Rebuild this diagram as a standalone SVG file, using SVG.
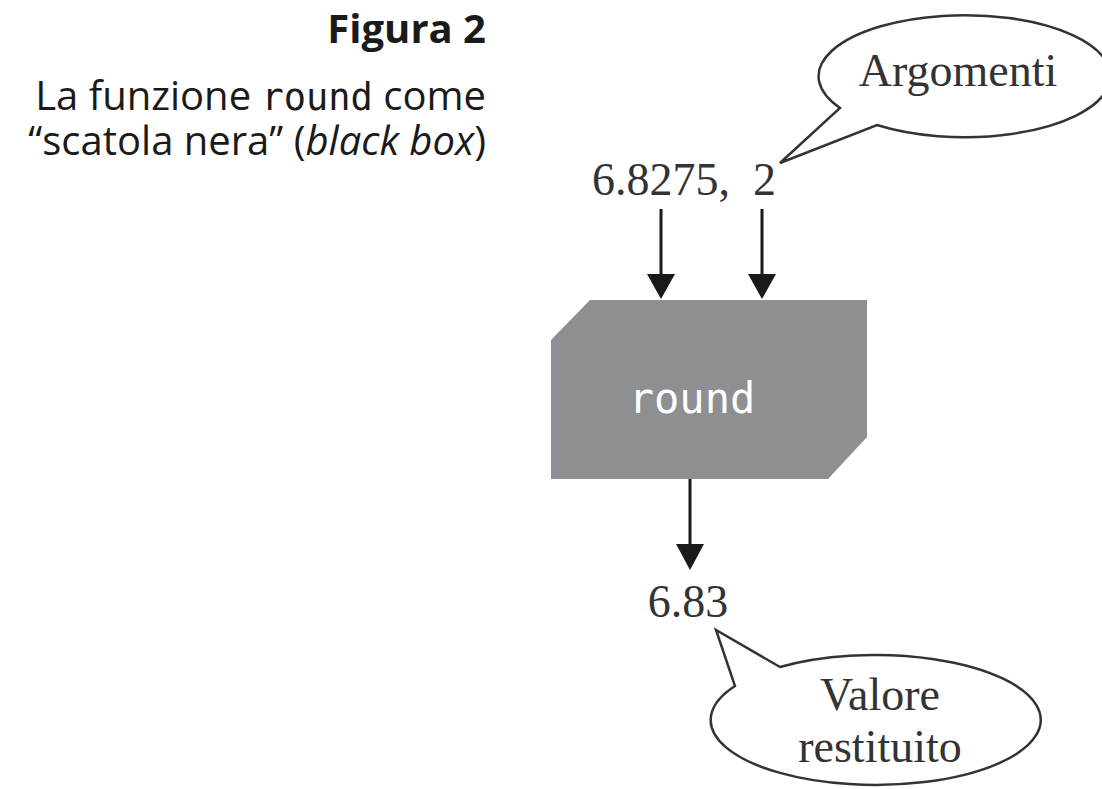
<svg xmlns="http://www.w3.org/2000/svg" width="1102" height="789" viewBox="0 0 1102 789">
<style>
.cap{font-family:"Open Sans","Liberation Sans",sans-serif;fill:#1a1a1a;font-size:40px;}
.ser{font-family:"Liberation Serif","Times New Roman",serif;fill:#333;font-size:46px;}
.bub{fill:#fff;stroke:#333;stroke-width:2.5;stroke-linejoin:miter;}
.ln{stroke:#1a1a1a;stroke-width:3;fill:none;}
.hd{fill:#1a1a1a;}
</style>
<rect width="1102" height="789" fill="#fff"/>
<g id="caption">
<text class="cap" x="486" y="43" text-anchor="end" font-weight="bold">Figura 2</text>
<text class="cap" x="486" y="110" text-anchor="end">La funzione <tspan font-family="'DejaVu Sans Mono',monospace" font-size="37">round</tspan> come</text>
<text class="cap" x="486" y="155" text-anchor="end">“scatola nera” (<tspan font-style="italic">black box</tspan>)</text>
</g>
<g id="args">
<text class="ser" x="592" y="195" xml:space="preserve">6.8275,  2</text>
</g>
<g id="argomenti">
<path class="bub" d="M 840 108 A 146 61 0 1 1 877 125 L 780 163 Z"/>
<text class="ser" x="958" y="86" text-anchor="middle" font-size="45">Argomenti</text>
</g>
<g id="round">
<path d="M 590 300 L 867 300 L 867 437 L 828 479 L 551 479 L 551 340 Z" fill="#8e8f93"/>
<text x="692" y="413" text-anchor="middle" font-family="'DejaVu Sans Mono','Liberation Mono',monospace" font-size="42" fill="#fff">round</text>
</g>
<g id="result">
<text class="ser" x="688" y="617" text-anchor="middle" font-size="44">6.83</text>
</g>
<g id="valore">
<path class="bub" d="M 780 667 A 165 65 0 1 1 735 686 L 716 630 Z"/>
<text class="ser" x="880" y="710" text-anchor="middle" font-size="45">Valore</text>
<text class="ser" x="880" y="762" text-anchor="middle" font-size="45">restituito</text>
</g>
<g id="connectors">
<line class="ln" x1="661" y1="209" x2="661" y2="276"/>
<polygon class="hd" points="647,274 675,274 661,299"/>
<line class="ln" x1="762" y1="209" x2="762" y2="276"/>
<polygon class="hd" points="748,274 776,274 762,299"/>
<line class="ln" x1="690" y1="479" x2="690" y2="546"/>
<polygon class="hd" points="676,544 704,544 690,570"/>
</g>
</svg>
